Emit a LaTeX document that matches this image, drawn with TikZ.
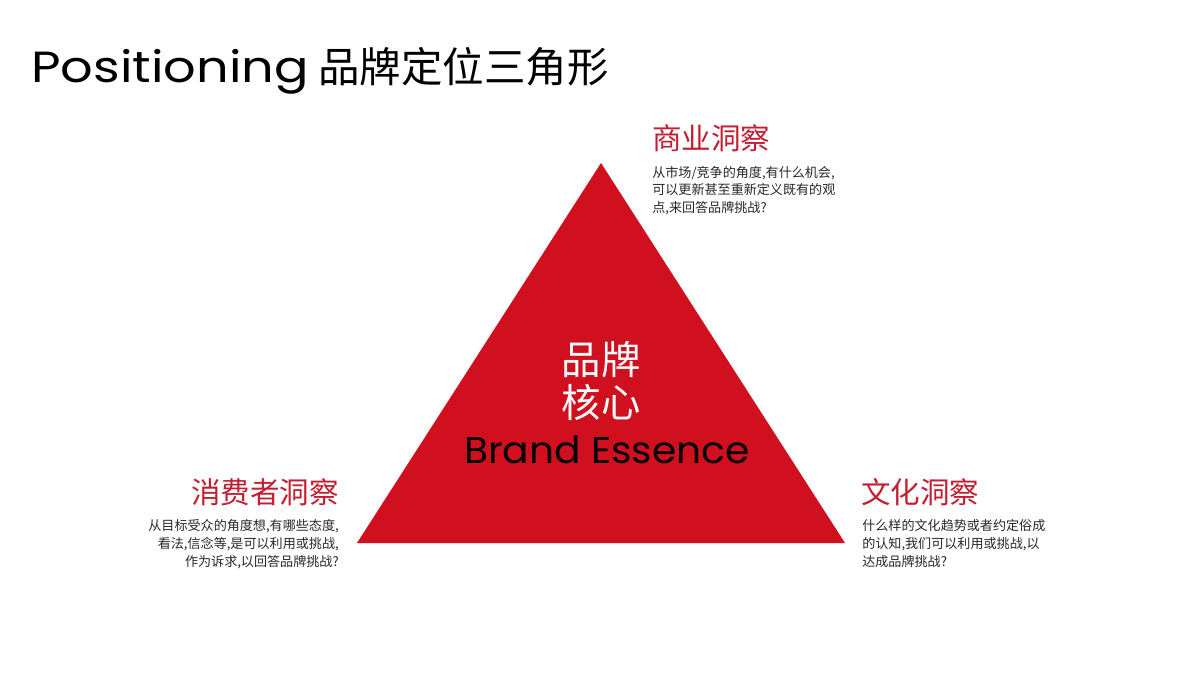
\documentclass[tikz,border=0pt]{standalone}
\usepackage{fontspec}
\setmainfont{Poppins}
\newfontfamily\cjk{Noto Sans CJK SC}
\newfontfamily\latin{Poppins}
\newfontfamily\latinwide[FakeStretch=1.17]{Poppins}
\newfontfamily\latinmid[FakeStretch=1.05]{Poppins}
\definecolor{tri}{RGB}{208,16,30}
\definecolor{head}{RGB}{196,30,50}
\definecolor{body}{RGB}{40,40,40}
\tikzset{
  heading/.style={font=\cjk\fontsize{21}{24}\selectfont, text=head, inner sep=0pt},
  bodytext/.style={font=\cjk\fontsize{9.3}{13}\selectfont, text=body, inner sep=0pt},
}
\begin{document}
\begin{tikzpicture}[x=0.025cm,y=-0.025cm]
\fill[white] (0,0) rectangle (1200,675);
\useasboundingbox (0,0) rectangle (1200,675);
% title
\node[anchor=base west, inner sep=0pt, font=\latinwide\fontsize{31}{36}\selectfont] (tlat) at (31,83) {Positioning};
\node[anchor=base west, inner sep=0pt, font=\cjk\fontsize{29.5}{34}\selectfont] (tcjk) at (318,83) {品牌定位三角形};
% triangle
\coordinate (apex) at (601,163);
\coordinate (bl) at (357,543);
\coordinate (br) at (845,543);
\fill[tri] (apex) -- (bl) -- (br) -- cycle;
% centre
\node[inner sep=0pt, text=white, font=\cjk\fontsize{28}{31}\selectfont, align=center] (core) at (601,381) {品牌\\核心};
\node[inner sep=0pt, font=\latinmid\fontsize{26.5}{30}\selectfont] (be) at (607,450) {Brand Essence};
% top
\node[heading, anchor=west] (h1) at (652,138) {商业洞察};
\node[bodytext, anchor=north west, align=left, font=\cjk\fontsize{9.3}{12.5}\selectfont] (b1) at (652,166) {从市场/竞争的角度,有什么机会,\\可以更新甚至重新定义既有的观\\点,来回答品牌挑战?};
% left
\node[heading, anchor=east] (h2) at (339,492) {消费者洞察};
\node[bodytext, anchor=north east, align=right] (b2) at (339,519) {从目标受众的角度想,有哪些态度,\\看法,信念等,是可以利用或挑战,\\作为诉求,以回答品牌挑战?};
% right
\node[heading, anchor=west] (h3) at (861,492) {文化洞察};
\node[bodytext, anchor=north west, align=left] (b3) at (862,519) {什么样的文化趋势或者约定俗成\\的认知,我们可以利用或挑战,以\\达成品牌挑战?};
\end{tikzpicture}
\end{document}
